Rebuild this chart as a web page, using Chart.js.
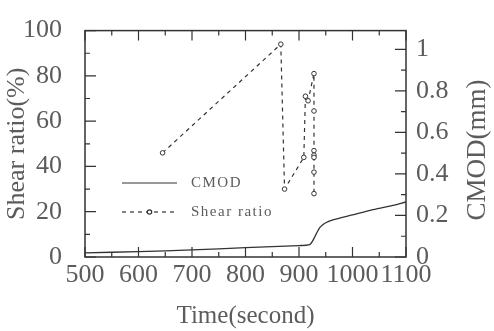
<!DOCTYPE html>
<html>
<head>
<meta charset="utf-8">
<script src="https://cdn.jsdelivr.net/npm/chart.js@4.4.1/dist/chart.umd.min.js"></script>
<style>
  html, body { margin: 0; padding: 0; background: #fff; }
  #wrap { width: 494px; height: 331px; }
</style>
</head>
<body>
<div id="wrap"><canvas id="chart" width="494" height="331"></canvas></div>
<script>
// ---- data ----
const cmodTime  = [500, 600, 700, 800, 900, 920, 925, 930, 935, 940, 950, 965, 1000, 1035, 1070, 1100];
const cmodValue = [0.02, 0.026, 0.034, 0.045, 0.055, 0.06, 0.075, 0.1, 0.125, 0.145, 0.165, 0.18, 0.203, 0.226, 0.245, 0.265];

const shearTime  = [645, 866, 873, 909, 912, 917, 928, 928, 928, 928, 928, 928, 928];
const shearValue = [46, 94, 30, 44, 71, 69, 81, 64.5, 47, 45, 44, 37.5, 28];

const timeTicks  = [500, 600, 700, 800, 900, 1000, 1100];
const shearTicks = [0, 20, 40, 60, 80, 100];
const cmodTicks  = [0, 0.2, 0.4, 0.6, 0.8, 1];
const cmodTickLabels = ['0', '0.2', '0.4', '0.6', '0.8', '1'];

const legendLabels = ['CMOD', 'Shear ratio'];
const rightTitle = 'CMOD(mm)';

const INK = '#333';
const TEXT = '#5c5c5c';
const SERIF = "'Liberation Serif', 'DejaVu Serif', serif";

const toPoints = (xs, ys) => xs.map((x, i) => ({ x: x, y: ys[i] }));

// frame, inward tick marks, legend and the right-hand title
const frameAndTicks = {
    id: 'frameAndTicks',
    afterDraw(chart) {
        const c = chart.ctx;
        const a = chart.chartArea;
        const sx = chart.scales.x, sl = chart.scales.y, sr = chart.scales.y1;
        c.save();
        c.strokeStyle = INK;
        c.lineWidth = 1.5;
        c.strokeRect(a.left, a.top, a.right - a.left, a.bottom - a.top);

        c.lineWidth = 1.2;
        c.beginPath();
        // x ticks (bottom + top)
        for (let t = 500; t <= 1100; t += 50) {
            const px = sx.getPixelForValue(t);
            const len = (t % 100 === 0) ? 10 : 5;
            c.moveTo(px, a.bottom); c.lineTo(px, a.bottom - len);
            c.moveTo(px, a.top); c.lineTo(px, a.top + len);
        }
        // left ticks
        for (let v = 0; v <= 100; v += 10) {
            const py = sl.getPixelForValue(v);
            const len = (v % 20 === 0) ? 11 : 5;
            c.moveTo(a.left, py); c.lineTo(a.left + len, py);
        }
        // right ticks
        for (let k = 0; k <= 10; k++) {
            const py = sr.getPixelForValue(k / 10);
            const len = (k % 2 === 0) ? 11 : 5;
            c.moveTo(a.right, py); c.lineTo(a.right - len, py);
        }
        c.stroke();

        // legend
        const lx0 = 122, lx1 = 177, tx = 191;
        const rows = [183, 212];
        c.lineWidth = 1.2;
        c.beginPath();
        c.moveTo(lx0, rows[0]); c.lineTo(lx1, rows[0]);
        c.stroke();
        c.setLineDash([4, 4]);
        c.beginPath();
        c.moveTo(lx0, rows[1]); c.lineTo(lx1, rows[1]);
        c.stroke();
        c.setLineDash([]);
        c.fillStyle = '#fff';
        c.beginPath();
        c.arc((lx0 + lx1) / 2, rows[1], 2.2, 0, Math.PI * 2);
        c.fill(); c.stroke();

        c.fillStyle = TEXT;
        c.font = "15px " + SERIF;
        c.letterSpacing = '1.5px';
        c.textBaseline = 'middle';
        c.textAlign = 'left';
        legendLabels.forEach((s, i) => c.fillText(s, tx, rows[i]));

        // right axis title, reading bottom to top
        c.letterSpacing = '0px';
        c.font = "27px " + SERIF;
        c.textAlign = 'center';
        c.translate(478, 150);
        c.rotate(-Math.PI / 2);
        c.fillText(rightTitle, 0, 0);
        c.restore();
    }
};

new Chart(document.getElementById('chart'), {
    type: 'scatter',
    data: {
        datasets: [
            {
                label: 'CMOD',
                data: toPoints(cmodTime, cmodValue),
                yAxisID: 'y1',
                showLine: true,
                borderColor: INK,
                borderWidth: 1.3,
                pointRadius: 0,
                tension: 0.3
            },
            {
                label: 'Shear ratio',
                data: toPoints(shearTime, shearValue),
                yAxisID: 'y',
                showLine: true,
                borderColor: INK,
                borderWidth: 1.2,
                borderDash: [4, 4],
                pointRadius: 2.3,
                pointBorderWidth: 1,
                pointBorderColor: INK,
                pointBackgroundColor: '#fff'
            }
        ]
    },
    options: {
        responsive: false,
        animation: false,
        devicePixelRatio: 1,
        layout: { padding: { top: 16, left: 0, right: 0, bottom: 0 } },
        plugins: { legend: { display: false }, tooltip: { enabled: false } },
        scales: {
            x: {
                type: 'linear',
                min: 500, max: 1100,
                grid: { display: false },
                border: { display: false },
                afterBuildTicks: s => { s.ticks = timeTicks.map(v => ({ value: v })); },
                afterFit: s => { s.height = 74; },
                ticks: {
                    color: TEXT, padding: -5, maxRotation: 0, autoSkip: false,
                    font: { family: SERIF, size: 26 },
                    callback: v => String(v)
                },
                title: { display: true, text: 'Time(second)', color: TEXT, padding: { top: 0, bottom: 0 }, font: { family: SERIF, size: 25 } }
            },
            y: {
                position: 'left',
                min: 0, max: 100,
                grid: { display: false },
                border: { display: false },
                afterBuildTicks: s => { s.ticks = shearTicks.map(v => ({ value: v })); },
                afterFit: s => { s.width = 85; },
                ticks: { color: TEXT, padding: 15, font: { family: SERIF, size: 26 } },
                title: { display: true, text: 'Shear ratio(%)', color: TEXT, padding: { top: 2, bottom: 0 }, font: { family: SERIF, size: 26 } }
            },
            y1: {
                position: 'right',
                min: 0, max: 1.09,
                grid: { display: false },
                border: { display: false },
                afterBuildTicks: s => { s.ticks = cmodTicks.map(v => ({ value: v })); },
                afterFit: s => { s.width = 88; },
                ticks: {
                    color: TEXT, padding: 2, font: { family: SERIF, size: 26 },
                    callback: (v, i) => cmodTickLabels[i]
                },
                title: { display: false }
            }
        }
    },
    plugins: [frameAndTicks]
});
</script>
</body>
</html>
